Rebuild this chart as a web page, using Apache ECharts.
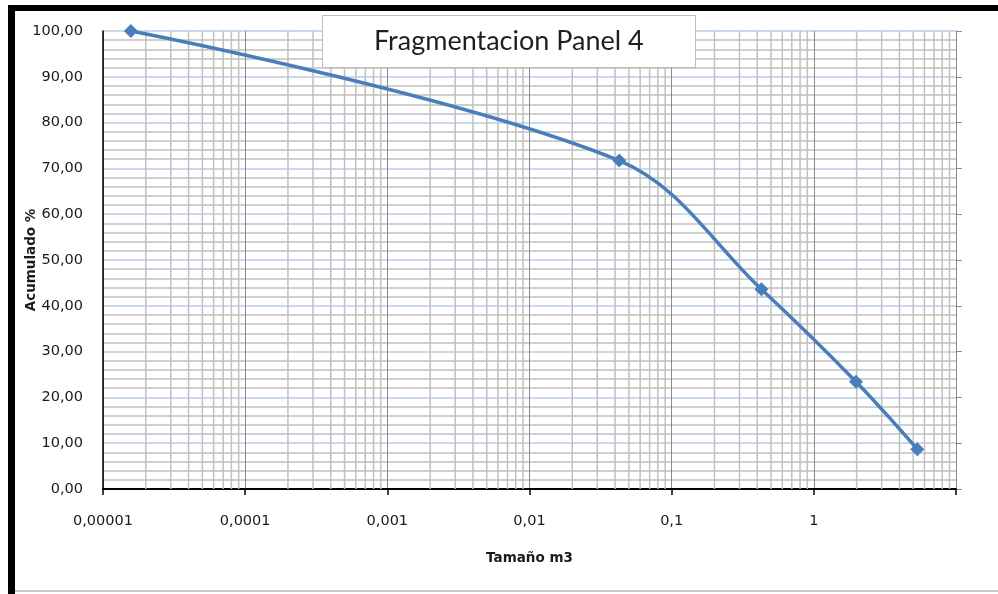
<!DOCTYPE html>
<html>
<head>
<meta charset="utf-8">
<script src="https://cdn.jsdelivr.net/npm/echarts@6/dist/echarts.min.js"></script>
<style>
html,body{margin:0;padding:0;background:#fff;}
#chart{width:998px;height:594px;}
</style>
</head>
<body>
<div id="chart"></div>
<script>
// ---- data ----
const sizeValues = [0.0000157, 0.0428, 0.428, 1.98, 5.34];      // Tamaño m3
const cumulativeValues = [100.0, 71.7, 43.6, 23.4, 8.7];         // Acumulado %
const xTickLabels = ['0,00001', '0,0001', '0,001', '0,01', '0,1', '1', ''];
const decadeStarts = [0.00001, 0.0001, 0.001, 0.01, 0.1, 1];
const minorMultipliers = [2, 3, 4, 5, 6, 7, 8, 9];

const minorGridValues = [];
decadeStarts.forEach(d => minorMultipliers.forEach(m => minorGridValues.push(d * m)));

const chart = echarts.init(document.getElementById('chart'), null, {renderer: 'canvas'});

const labelFont = 'DejaVu Sans';

chart.setOption({
  backgroundColor: '#ffffff',
  animation: false,
  title: {
    text: 'Fragmentacion Panel 4',
    left: 322,
    top: 15,
    padding: [11, 52],
    backgroundColor: '#ffffff',
    borderColor: '#bcbcbc',
    borderWidth: 1,
    textStyle: {fontFamily: 'Lato', fontSize: 27, fontWeight: 'normal', color: '#1f1f1f', lineHeight: 31},
    z: 10
  },
  graphic: [
    {type: 'rect', shape: {x: 8, y: 5, width: 990, height: 6}, style: {fill: '#000'}, z: 100},
    {type: 'rect', shape: {x: 8, y: 5, width: 7, height: 589}, style: {fill: '#000'}, z: 100},
    {type: 'line', shape: {x1: 15, y1: 591, x2: 998, y2: 591}, style: {stroke: '#c8c8c8', lineWidth: 2}, z: 100}
  ],
  grid: {left: 103, right: 42, top: 31, bottom: 105, containLabel: false},
  xAxis: [
    {
      type: 'log', logBase: 10, min: 0.00001, max: 10,
      position: 'bottom',
      name: 'Tamaño m3', nameLocation: 'middle', nameGap: 62,
      nameMoveOverlap: false,
      nameTextStyle: {fontFamily: labelFont, fontSize: 13.5, fontWeight: 'bold', color: '#1a1a1a'},
      axisLine: {show: true, lineStyle: {color: '#000', width: 1.5}},
      axisTick: {show: true, length: 6, lineStyle: {color: '#000', width: 1.5}},
      axisLabel: {
        margin: 25, fontFamily: labelFont, fontSize: 14.5, color: '#1a1a1a',
        formatter: function (v) {
          const i = Math.round(Math.log10(v)) + 5;
          return xTickLabels[i] !== undefined ? xTickLabels[i] : '';
        }
      },
      splitLine: {show: true, lineStyle: {color: '#8a8a8a', width: 1}},
      minorTick: {show: false},
      minorSplitLine: {show: false}
    },
    {
      type: 'log', logBase: 10, min: 0.00001, max: 10,
      position: 'top',
      axisLine: {show: true, lineStyle: {color: '#000', width: 2}},
      axisTick: {show: false}, axisLabel: {show: false}, splitLine: {show: false}
    }
  ],
  yAxis: [
    {
      type: 'value', min: 0, max: 100, interval: 10,
      position: 'left',
      name: 'Acumulado %', nameLocation: 'middle', nameGap: 65, nameRotate: 90,
      nameMoveOverlap: false,
      nameTextStyle: {fontFamily: labelFont, fontSize: 13.5, fontWeight: 'bold', color: '#1a1a1a'},
      axisLine: {show: true, lineStyle: {color: '#000', width: 1.5}},
      axisTick: {show: false},
      axisLabel: {
        margin: 20, fontFamily: labelFont, fontSize: 14.5, color: '#1a1a1a',
        formatter: v => v.toFixed(2).replace('.', ',')
      },
      splitLine: {show: true, lineStyle: {color: '#b9cde5', width: 1.5}},
      minorTick: {show: false, splitNumber: 5},
      minorSplitLine: {show: true, lineStyle: {color: '#c0c0c0', width: 1.5}}
    },
    {
      type: 'value', min: 0, max: 100, interval: 10,
      position: 'right',
      axisLine: {show: true, lineStyle: {color: '#8a8a8a', width: 1}},
      axisTick: {show: true, length: 6, inside: false, lineStyle: {color: '#8a8a8a'}},
      axisLabel: {show: false},
      splitLine: {show: false}
    }
  ],
  series: [
    {
      type: 'custom',
      silent: true,
      z: 1,
      clip: true,
      data: minorGridValues,
      encode: {x: 0},
      renderItem: function (params, api) {
        const v = api.value(0);
        const p0 = api.coord([v, 0]);
        const p1 = api.coord([v, 100]);
        return {
          type: 'line',
          shape: {x1: p0[0], y1: p0[1], x2: p1[0], y2: p1[1]},
          style: {stroke: '#c0c0c0', lineWidth: 1.5}
        };
      }
    },
    {
      type: 'line',
      z: 5,
      data: sizeValues.map((x, i) => [x, cumulativeValues[i]]),
      smooth: 0.35,
      symbol: 'diamond',
      symbolSize: 14,
      lineStyle: {color: '#4a7ebb', width: 3.5},
      itemStyle: {color: '#4a7ebb'}
    }
  ]
});
</script>
</body>
</html>
